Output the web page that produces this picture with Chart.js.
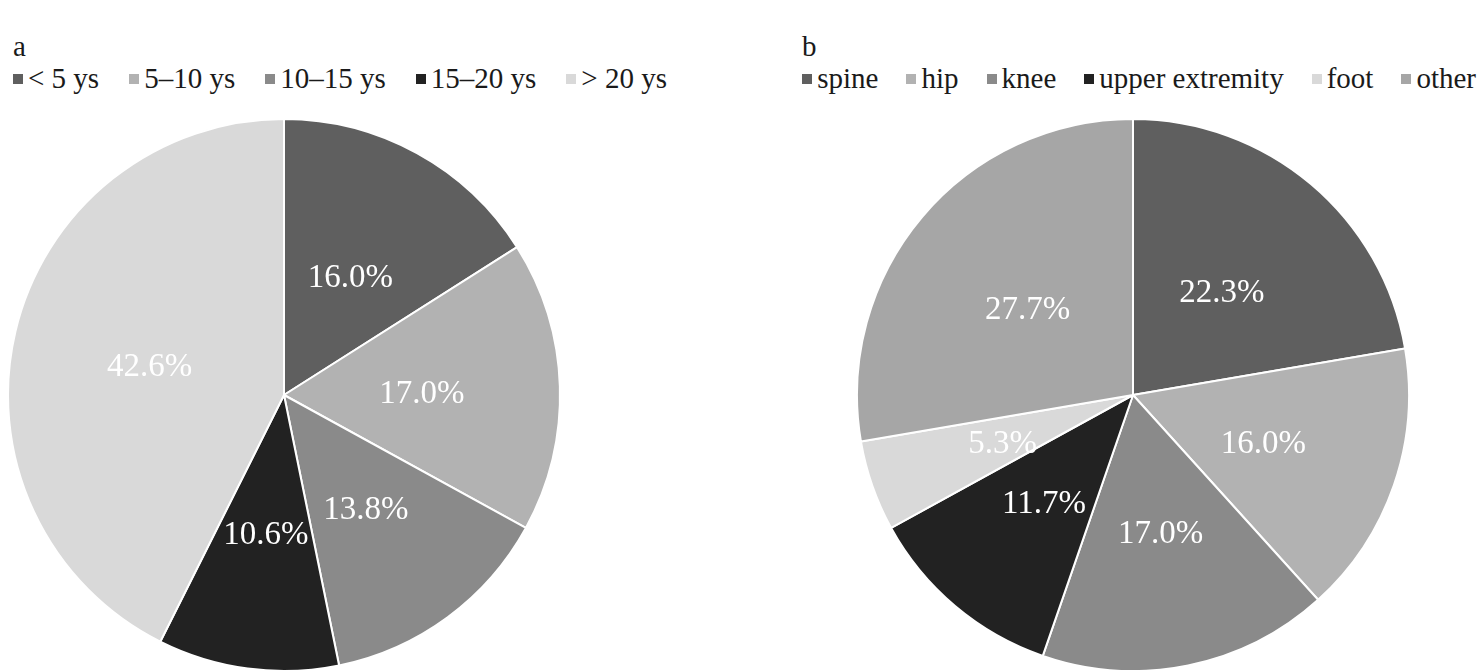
<!DOCTYPE html>
<html>
<head>
<meta charset="utf-8">
<script src="https://cdn.jsdelivr.net/npm/chart.js@4/dist/chart.umd.min.js"></script>
<style>
  html, body { margin: 0; padding: 0; background: #fff; overflow: hidden; }
  body {
    width: 1480px; height: 670px; position: relative;
    font-family: "Liberation Serif", "Times New Roman", Times, "DejaVu Serif", serif;
    color: #1a1a1a;
  }
  .panel-tag { position: absolute; top: 30px; font-size: 29px; line-height: 32px; }
  .legend { position: absolute; top: 62px; display: flex; white-space: nowrap; font-size: 29px; line-height: 32px; }
  .legend span.item { display: flex; align-items: center; }
  .legend i { display: inline-block; width: 10px; height: 10px; margin-right: 5px; margin-top: 2px; }
  .pie { position: absolute; top: 115px; width: 560px; height: 560px; }
</style>
</head>
<body>
<div class="panel-tag" id="tagA" style="left:13px">a</div>
<div class="panel-tag" id="tagB">b</div>
<div class="legend" id="legendA" style="left:13px; gap:30px"></div>
<div class="legend" id="legendB" style="right:4px; gap:28px"></div>
<div class="pie" style="left:4px"><canvas id="pieA" width="560" height="560"></canvas></div>
<div class="pie" style="left:853px"><canvas id="pieB" width="560" height="560"></canvas></div>
<script>
// years of practice
const yearLabels = ['< 5 ys', '5–10 ys', '10–15 ys', '15–20 ys', '> 20 ys'];
const yearValues = [16.0, 17.0, 13.8, 10.6, 42.6];
const yearColors = ['#5f5f5f', '#b2b2b2', '#8a8a8a', '#222222', '#d9d9d9'];

// body region
const regionLabels = ['spine', 'hip', 'knee', 'upper extremity', 'foot', 'other'];
const regionValues = [22.3, 16.0, 17.0, 11.7, 5.3, 27.7];
const regionColors = ['#5f5f5f', '#b2b2b2', '#8a8a8a', '#222222', '#d9d9d9', '#a6a6a6'];

// percentage text in the middle of each slice
const sliceLabels = {
    id: 'sliceLabels',
    afterDatasetsDraw(chart) {
        const ctx = chart.ctx;
        const meta = chart.getDatasetMeta(0);
        const values = chart.data.datasets[0].data;
        ctx.save();
        ctx.font = '33px "Liberation Serif", "Times New Roman", "DejaVu Serif", serif';
        ctx.fillStyle = '#ffffff';
        ctx.textAlign = 'center';
        ctx.textBaseline = 'middle';
        meta.data.forEach((arc, i) => {
            const pos = arc.tooltipPosition();
            ctx.fillText(values[i].toFixed(1) + '%', pos.x, pos.y + 4);
        });
        ctx.restore();
    }
};

function buildLegend(el, labels, colors) {
    labels.forEach((label, i) => {
        const item = document.createElement('span');
        item.className = 'item';
        const box = document.createElement('i');
        box.style.background = colors[i];
        item.appendChild(box);
        item.appendChild(document.createTextNode(label));
        el.appendChild(item);
    });
}

function makePie(canvasId, labels, values, colors) {
    const ctx = document.getElementById(canvasId).getContext('2d');
    return new Chart(ctx, {
        type: 'pie',
        data: {
            labels: labels,
            datasets: [{
                data: values,
                backgroundColor: colors,
                borderColor: '#ffffff',
                borderWidth: 2
            }]
        },
        options: {
            responsive: false,
            animation: false,
            radius: 276,
            layout: { padding: 0 },
            plugins: {
                legend: { display: false },
                tooltip: { enabled: false }
            }
        },
        plugins: [sliceLabels]
    });
}

buildLegend(document.getElementById('legendA'), yearLabels, yearColors);
buildLegend(document.getElementById('legendB'), regionLabels, regionColors);
// the "b" tag sits above the first legend swatch
document.getElementById('tagB').style.left = document.getElementById('legendB').offsetLeft + 'px';

makePie('pieA', yearLabels, yearValues, yearColors);
makePie('pieB', regionLabels, regionValues, regionColors);
</script>
</body>
</html>
